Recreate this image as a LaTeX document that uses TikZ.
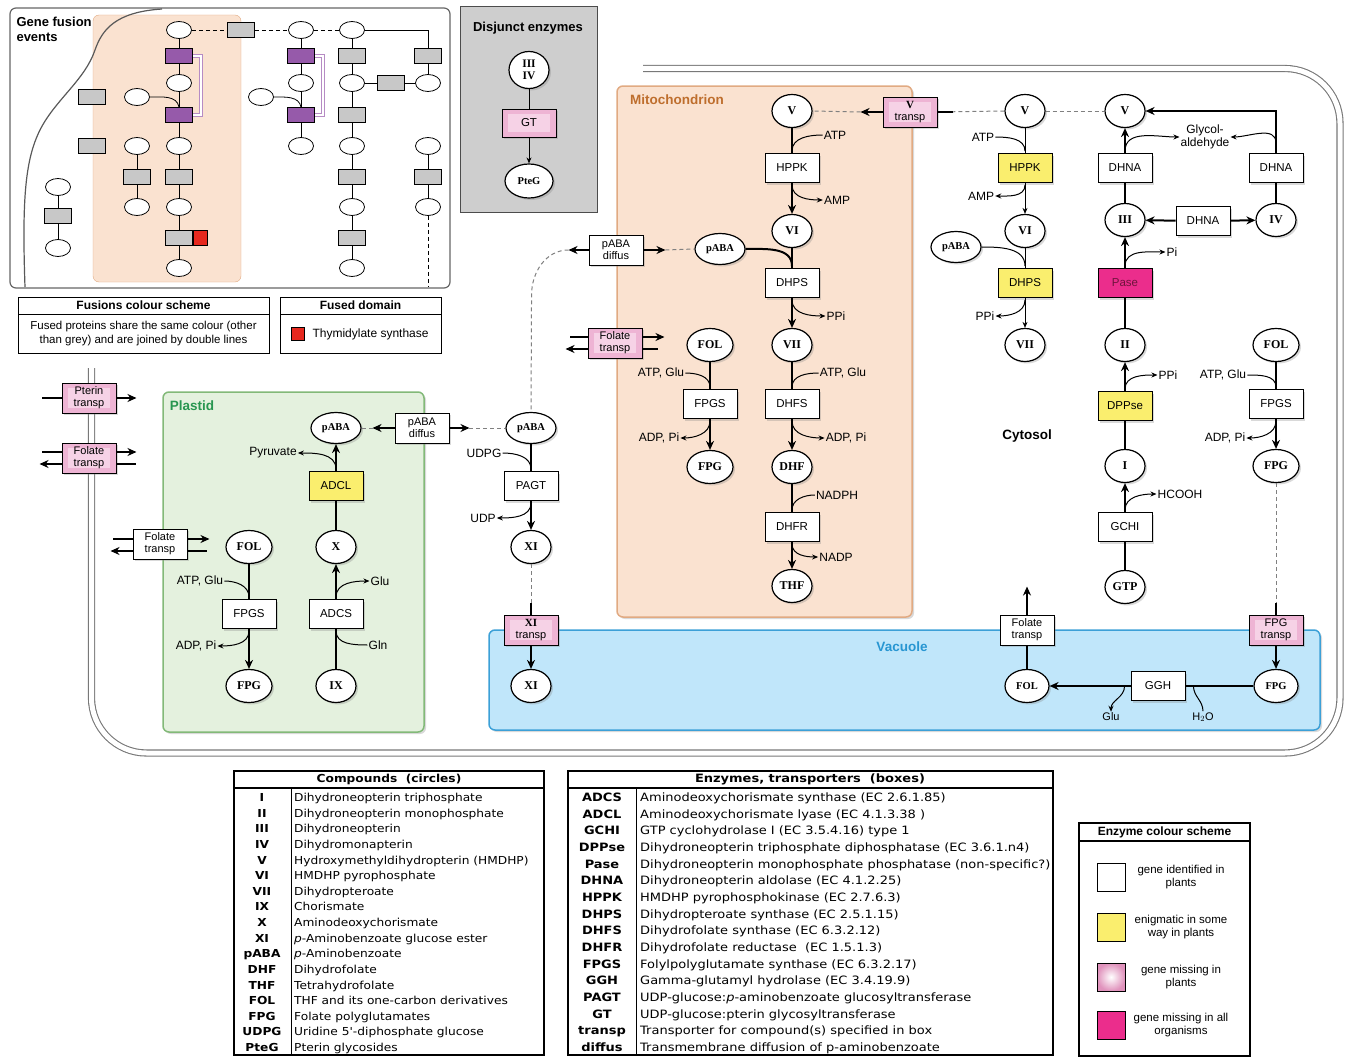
\documentclass[tikz,border=0pt]{standalone}
\usepackage{fontspec}
\setmainfont{Liberation Sans}
\newfontfamily\cpdf{Liberation Serif}
\newfontfamily\tabf[FakeStretch=1.11]{DejaVu Sans}
\newfontfamily\tabg[FakeStretch=1.13]{DejaVu Sans}
\usetikzlibrary{shapes.geometric,arrows.meta,calc,shadows}
\definecolor{peachfill}{RGB}{250,226,208}
\definecolor{peachdraw}{RGB}{225,170,130}
\definecolor{plastfill}{RGB}{228,241,222}
\definecolor{plastdraw}{RGB}{130,185,120}
\definecolor{vacfill}{RGB}{192,230,250}
\definecolor{vacdraw}{RGB}{60,160,215}
\definecolor{enzyel}{RGB}{250,238,110}
\definecolor{enzmag}{RGB}{235,45,140}
\definecolor{pasetxt}{RGB}{110,20,60}
\definecolor{pinkout}{RGB}{224,146,188}
\definecolor{pinkfl}{RGB}{238,180,212}
\definecolor{pinkhi}{RGB}{246,210,230}
\definecolor{fuspurp}{RGB}{150,90,170}
\definecolor{fusgray}{RGB}{200,200,200}
\definecolor{disgray}{RGB}{206,206,206}
\definecolor{mitotxt}{RGB}{190,110,45}
\definecolor{plasttxt}{RGB}{40,150,80}
\definecolor{vactxt}{RGB}{40,150,210}
\definecolor{membr}{RGB}{120,120,120}
\definecolor{fusred}{RGB}{230,40,30}
\newcommand{\labfont}{\fontsize{12}{13}\selectfont}
\newcommand{\boxfont}{\fontsize{11.5}{12.5}\selectfont}
\newcommand{\trfont}{\fontsize{11}{12}\selectfont}
\newcommand{\ttlfont}{\bfseries\fontsize{13.5}{15}\selectfont}
\newcommand{\cpdfont}{\cpdf\bfseries\fontsize{12}{12}\selectfont}
\newcommand{\pabafont}{\cpdf\bfseries\fontsize{10.5}{11}\selectfont}
\newcommand{\tabfont}{\tabf\fontsize{11}{12}\selectfont}
\newcommand{\tabgfont}{\tabg\fontsize{11.5}{12}\selectfont}
\newcommand{\legfont}{\fontsize{11.5}{13.5}\selectfont}
\tikzset{
  softshadow/.style={drop shadow={opacity=0.3,shadow xshift=2pt,shadow yshift=-2pt}},
  cpd/.style={ellipse, draw, line width=1.2pt, fill=white, minimum width=40pt, minimum height=33pt, inner sep=0pt, font=\cpdfont, softshadow},
  enz/.style={rectangle, draw, line width=0.9pt, fill=white, minimum width=54pt, minimum height=29pt, inner sep=1pt, font=\boxfont, softshadow},
  yenz/.style={enz, fill=enzyel},
  menz/.style={enz, fill=enzmag, text=pasetxt},
  trsp/.style={enz, minimum height=30pt, align=center, font=\trfont},
  penz/.style={trsp, fill=pinkfl, path picture={\fill[pinkhi] ($(path picture bounding box.south west)+(6,5)$) rectangle ($(path picture bounding box.north east)+(-6,-5)$);}},
  lab/.style={font=\labfont, inner sep=1pt},
  compart/.style={line width=1.5pt, rounded corners=6pt, softshadow},
  main/.style={line width=2pt},
  mainarr/.style={line width=2pt, -{Stealth[length=9pt,width=8pt]}},
  side/.style={line width=1pt},
  sidearr/.style={line width=1pt, -{Stealth[length=6pt,width=5pt]}},
  dashl/.style={line width=1pt, gray, dash pattern=on 4pt off 3pt},
  gell/.style={ellipse, draw, line width=0.8pt, fill=white, minimum width=25pt, minimum height=17pt, inner sep=0pt},
  gbox/.style={rectangle, draw, line width=0.8pt, fill=fusgray, minimum width=27pt, minimum height=15pt, inner sep=0pt},
  gpur/.style={gbox, fill=fuspurp},
}
\begin{document}
\begin{tikzpicture}[x=1pt,y=1pt]
\useasboundingbox (0,0) rectangle (1352,-1057);

%Gene fusion panel
\draw[line width=1.2pt, gray!80!black, rounded corners=6pt] (10,-8) rectangle (450,-288);
\fill[peachfill, draw=peachdraw, rounded corners=6pt] (93,-15) rectangle (241,-282);
\draw[line width=1.2pt, gray!70!black] (162,-9) .. controls (115,-12) and (102,-30) .. (95,-50) .. controls (85,-80) and (55,-100) .. (40,-130) .. controls (25,-160) and (22,-200) .. (25,-287);
\node[font=\bfseries\fontsize{13}{14.5}\selectfont, align=left, anchor=north west] (gTitle) at (13,-14) {Gene fusion\\events};
% Points
\node[gell] (gA1) at (179,-30) {};
\node[gpur] (gA2) at (179,-56) {};
\node[gell] (gA3) at (179,-83) {};
\node[gpur] (gA4) at (179,-115) {};
\node[gell] (gA5) at (179,-146) {};
\node[gbox] (gA6) at (179,-177) {};
\node[gell] (gA7) at (179,-207) {};
\node[gbox] (gA8) at (179,-238) {};
\node[gbox, fill=fusred, minimum width=14pt] (gA8r) at (200,-238) {};
\node[gell] (gA9) at (179,-268) {};
\node[gbox] (gT) at (241,-30) {};
\node[gell] (gB1) at (301,-30) {};
\node[gpur] (gB2) at (301,-56) {};
\node[gell] (gB3) at (301,-83) {};
\node[gpur] (gB4) at (301,-115) {};
\node[gell] (gB5) at (301,-146) {};
\node[gell] (gB0) at (261,-97) {};
\node[gell] (gC1) at (352,-30) {};
\node[gbox] (gC2) at (352,-56) {};
\node[gell] (gC3) at (352,-83) {};
\node[gbox] (gC4) at (352,-115) {};
\node[gell] (gC5) at (352,-146) {};
\node[gbox] (gC6) at (352,-177) {};
\node[gell] (gC7) at (352,-207) {};
\node[gbox] (gC8) at (352,-238) {};
\node[gell] (gC9) at (352,-268) {};
\node[gbox] (gCD) at (391,-83) {};
\node[gbox] (gD2) at (428,-56) {};
\node[gell] (gD3) at (428,-83) {};
\node[gell] (gD5) at (428,-146) {};
\node[gbox] (gD6) at (428,-177) {};
\node[gell] (gD7) at (428,-207) {};
\node[gell] (gE1) at (137,-97) {};
\node[gell] (gE5) at (137,-146) {};
\node[gbox] (gE6) at (137,-177) {};
\node[gell] (gE7) at (137,-207) {};
\node[gbox] (gX1) at (92,-97) {};
\node[gbox] (gX2) at (92,-146) {};
\node[gell] (gF1) at (58,-187) {};
\node[gbox] (gF2) at (58,-216) {};
\node[gell] (gF3) at (58,-248) {};
%Lines
\foreach \a/\b in {A1/A2,A2/A3,A3/A4,A4/A5,A5/A6,A6/A7,A7/A8,A8/A9,B1/B2,B2/B3,B3/B4,B4/B5,C1/C2,C2/C3,C3/C4,C4/C5,C5/C6,C6/C7,C7/C8,C8/C9,C3/CD,CD/D3,D2/D3,D5/D6,D6/D7,E5/E6,E6/E7,F1/F2,F2/F3}
  \draw[line width=0.8pt] (g\a) -- (g\b);
\draw[line width=0.8pt] (gC1.east) -| (gD2.north);
\draw[line width=0.8pt] (gE1.east) to[out=0,in=100] (gA4.north);
\draw[line width=0.8pt] (gB0.east) to[out=0,in=100] (gB4.north);
\draw[line width=0.9pt, dash pattern=on 4pt off 3pt] (gA1) -- (gT) (gT) -- (gB1) (gB1) -- (gC1);
\draw[line width=0.9pt, dash pattern=on 4pt off 3pt] (gD7.south) -- ++(0,-71);
\draw[double=white, double distance=2pt, fuspurp!70, line width=0.8pt] (gA2.east) -- ++(8,0) |- (gA4.east);
\draw[double=white, double distance=2pt, fuspurp!70, line width=0.8pt] (gB2.east) -- ++(8,0) |- (gB4.east);

%Disjunct enzymes
\draw[fill=disgray, draw=gray!60!black, line width=1pt] (460,-7) rectangle (597,-212);
\node[font=\bfseries\fontsize{13}{14}\selectfont] (dTitle) at (528,-28) {Disjunct enzymes};
\node[cpd, align=center, minimum width=40pt, minimum height=37pt, font=\cpdf\bfseries\fontsize{11.5}{12.5}\selectfont] (dIII) at (529,-70) {III\\IV};
\node[penz, minimum height=28pt, font=\boxfont] (dGT) at (529,-123) {GT};
\node[cpd, minimum width=48pt, minimum height=34pt, font=\pabafont] (dPteG) at (529,-181) {PteG};
\draw[side] (dIII) -- (dGT);
\draw[sidearr] (dGT) -- (dPteG);

%Fusion legends
\draw[line width=1pt] (18,-297) rectangle (269,-353);
\draw[line width=1pt] (18,-314) -- (269,-314);
\node[font=\bfseries\fontsize{12}{12}\selectfont] (fusH) at (143.5,-305.5) {Fusions colour scheme};
\node[font=\legfont, align=center] (fusT) at (143.5,-333.5) {Fused proteins share the same colour (other\\than grey) and are joined by double lines};
\draw[line width=1pt] (280,-297) rectangle (441,-353);
\draw[line width=1pt] (280,-314) -- (441,-314);
\node[font=\bfseries\fontsize{12}{12}\selectfont] (fdH) at (360.5,-305.5) {Fused domain};
\node[draw, fill=fusred, minimum size=13pt, inner sep=0pt] (fdSq) at (298,-334) {};
\node[font=\fontsize{12}{13}\selectfont, anchor=west] (fdT) at (309,-334) {Thymidylate synthase};

%Cell membrane and compartments
\draw[double=white, double distance=5pt, line width=1.1pt, draw=membr, rounded corners=55pt] (643,-68.5) -- (1340,-68.5) -- (1340,-753) -- (91.5,-753) -- (91.5,-368);
\draw[compart, fill=peachfill, draw=peachdraw] (617,-86) rectangle (912,-617);
\draw[compart, fill=plastfill, draw=plastdraw] (163,-392) rectangle (424,-732);
\draw[compart, fill=vacfill, draw=vacdraw] (489,-630) rectangle (1320,-730);
\node[font=\ttlfont, text=mitotxt] (mTitle) at (677,-100) {Mitochondrion};
\node[font=\ttlfont, text=plasttxt] (pTitle) at (192,-406) {Plastid};
\node[font=\ttlfont, text=vactxt] (vTitle) at (902,-647) {Vacuole};
\node[font=\ttlfont] (cTitle) at (1027,-436) {Cytosol};

% Points: mitochondrion
\node[cpd] (mV) at (792,-111) {V};
\node[enz] (mHPPK) at (792,-168) {HPPK};
\node[cpd] (mVI) at (792,-231) {VI};
\node[cpd, minimum width=50pt, minimum height=31pt, font=\pabafont] (mPABA) at (720,-249) {pABA};
\node[enz] (mDHPS) at (792,-283) {DHPS};
\node[cpd] (mVII) at (792,-345) {VII};
\node[enz] (mDHFS) at (792,-404) {DHFS};
\node[cpd] (mDHF) at (792,-467) {DHF};
\node[enz] (mDHFR) at (792,-527) {DHFR};
\node[cpd] (mTHF) at (792,-586) {THF};
\node[cpd, minimum width=46pt] (mFOL) at (710,-345) {FOL};
\node[enz] (mFPGS) at (710,-404) {FPGS};
\node[cpd, minimum width=46pt] (mFPG) at (710,-467) {FPG};
\node[penz] (mVtr) at (910,-112) {\cpdf\bfseries V\\transp};
\node[trsp] (mPd) at (616,-250) {pABA\\diffus};
\node[penz] (mFt) at (615,-343) {Folate\\transp};
\node[lab] (mATP) at (835,-135) {ATP};
\node[lab] (mAMP) at (837,-200) {AMP};
\node[lab] (mPPi) at (836,-316) {PPi};
\node[lab] (mATPGlu) at (843,-373) {ATP, Glu};
\node[lab] (mADPPi) at (846,-438) {ADP, Pi};
\node[lab] (mNADPH) at (837,-495) {NADPH};
\node[lab] (mNADP) at (836,-557) {NADP};
\node[lab] (mATPGlu2) at (661,-373) {ATP, Glu};
\node[lab] (mADPPi2) at (659,-438) {ADP, Pi};

% Points: cytosol
\node[cpd] (cV1) at (1025,-111) {V};
\node[yenz] (cHPPK) at (1025,-168) {HPPK};
\node[cpd] (cVI) at (1025,-231) {VI};
\node[cpd, minimum width=50pt, minimum height=31pt, font=\pabafont] (cPABA) at (956,-247) {pABA};
\node[yenz] (cDHPS) at (1025,-283) {DHPS};
\node[cpd] (cVII) at (1025,-345) {VII};
\node[cpd] (cV2) at (1125,-111) {V};
\node[enz] (cDHNA) at (1125,-168) {DHNA};
\node[cpd] (cIII) at (1125,-220) {III};
\node[enz] (cDHNAm) at (1203,-221) {DHNA};
\node[cpd] (cIV) at (1276,-220) {IV};
\node[enz] (cDHNAr) at (1276,-168) {DHNA};
\node[menz] (cPase) at (1125,-283) {Pase};
\node[cpd] (cII) at (1125,-345) {II};
\node[yenz] (cDPPse) at (1125,-406) {DPPse};
\node[cpd] (cI) at (1125,-466) {I};
\node[enz] (cGCHI) at (1125,-527) {GCHI};
\node[cpd] (cGTP) at (1125,-587) {GTP};
\node[cpd, minimum width=46pt] (cFOL) at (1276,-345) {FOL};
\node[enz] (cFPGS) at (1276,-404) {FPGS};
\node[cpd, minimum width=46pt] (cFPG) at (1276,-466) {FPG};
\node[lab] (cATP) at (983,-137) {ATP};
\node[lab] (cAMP) at (981,-196) {AMP};
\node[lab] (cPPi) at (985,-316) {PPi};
\node[lab, align=center, font=\fontsize{12}{13}\selectfont] (cGly) at (1205,-137) {Glycol-\\aldehyde};
\node[lab] (cPi) at (1172,-252) {Pi};
\node[lab] (cPPi2) at (1168,-375) {PPi};
\node[lab] (cHCOOH) at (1180,-494) {HCOOH};
\node[lab] (cATPGlu) at (1223,-375) {ATP, Glu};
\node[lab] (cADPPi) at (1225,-438) {ADP, Pi};

% Points: middle
\node[cpd, minimum width=50pt, minimum height=31pt, font=\pabafont] (xPABA) at (531,-428) {pABA};
\node[enz] (xPAGT) at (531,-486) {PAGT};
\node[cpd] (xXI) at (531,-547) {XI};
\node[lab] (uUDPG) at (484,-453) {UDPG};
\node[lab] (uUDP) at (483,-518) {UDP};

% Points: plastid
\node[cpd, minimum width=50pt, minimum height=31pt, font=\pabafont] (pPABA) at (336,-428) {pABA};
\node[yenz] (pADCL) at (336,-486) {ADCL};
\node[cpd] (pX) at (336,-547) {X};
\node[enz] (pADCS) at (336,-614) {ADCS};
\node[cpd] (pIX) at (336,-686) {IX};
\node[cpd, minimum width=46pt] (pFOL) at (249,-547) {FOL};
\node[enz] (pFPGS) at (249,-614) {FPGS};
\node[cpd, minimum width=46pt] (pFPG) at (249,-686) {FPG};
\node[trsp] (pPd) at (422,-428) {pABA\\diffus};
\node[trsp] (pFt) at (160,-544) {Folate\\transp};
\node[penz] (lPt) at (89,-398) {Pterin\\transp};
\node[penz] (lFt) at (89,-458) {Folate\\transp};
\node[lab] (pPyr) at (273,-453) {Pyruvate};
\node[lab] (pGlu) at (380,-581) {Glu};
\node[lab] (pGln) at (378,-645) {Gln};
\node[lab] (pATPGlu) at (200,-581) {ATP, Glu};
\node[lab] (pADPPi) at (196,-646) {ADP, Pi};

% Points: vacuole
\node[cpd] (vXI) at (531,-686) {XI};
\node[cpd, minimum width=44pt, font=\pabafont] (vFOL) at (1027,-686) {FOL};
\node[enz] (vGGH) at (1158,-686) {GGH};
\node[cpd, minimum width=44pt, font=\pabafont] (vFPG) at (1276,-686) {FPG};
\node[penz] (vXItr) at (531,-630) {\cpdf\bfseries XI\\transp};
\node[trsp] (vFtr) at (1027,-630) {Folate\\transp};
\node[penz] (vFPGtr) at (1276,-630) {FPG\\transp};
\node[lab, font=\fontsize{11}{12}\selectfont] (vGlu) at (1111,-717) {Glu};
\node[lab, font=\fontsize{11}{12}\selectfont] (vH2O) at (1203,-717) {H$_2$O};

%Lines: mitochondrion
\draw[main] (mV) -- (mHPPK);
\draw[mainarr] (mHPPK) -- (mVI);
\draw[main] (mVI) -- (mDHPS);
\draw[mainarr] (mDHPS) -- (mVII);
\draw[main] (mVII) -- (mDHFS);
\draw[mainarr] (mDHFS) -- (mDHF);
\draw[main] (mDHF) -- (mDHFR);
\draw[mainarr] (mDHFR) -- (mTHF);
\draw[main] (mFOL) -- (mFPGS);
\draw[mainarr] (mFPGS) -- (mFPG);
\draw[main] (mPABA.east) to[out=0,in=90] ($(mDHPS.north)+(0,2)$);
\draw[side] (mATP.west) to[out=180,in=90] ($(mHPPK.north)+(0,2)$);
\draw[sidearr] ($(mHPPK.south)+(0,-2)$) to[out=-90,in=180] (mAMP.west);
\draw[sidearr] ($(mDHPS.south)+(0,-2)$) to[out=-90,in=180] (mPPi.west);
\draw[side] (mATPGlu.west) to[out=180,in=90] ($(mDHFS.north)+(0,2)$);
\draw[sidearr] ($(mDHFS.south)+(0,-2)$) to[out=-90,in=180] (mADPPi.west);
\draw[side] (mNADPH.west) to[out=180,in=90] ($(mDHFR.north)+(0,2)$);
\draw[sidearr] ($(mDHFR.south)+(0,-2)$) to[out=-90,in=180] (mNADP.west);
\draw[side] (mATPGlu2.east) to[out=0,in=90] ($(mFPGS.north)+(0,2)$);
\draw[sidearr] ($(mFPGS.south)+(0,-2)$) to[out=-90,in=0] (mADPPi2.east);
\draw[mainarr] (mVtr.west) -- ++(-22,0) coordinate (mVin);
\draw[dashl] (mVin) -- (mV.east);
\draw[dashl] (cV1.west) -- (mVtr.east);
\draw[main] (mVtr.east) -- ++(16,0);
\draw[mainarr] (mPd.west) -- ++(-20,0) coordinate (mPdl);
\draw[mainarr] (mPd.east) -- ++(22,0) coordinate (mPdr);
\draw[dashl] (mPdr) -- (mPABA.west);
\draw[dashl] (mPdl) to[out=180,in=90] ++(-37,-45) -- (xPABA.north);
\draw[main] ([yshift=6pt]mFt.west) -- ++(-18,0);
\draw[mainarr] ([yshift=6pt]mFt.east) -- ++(22,0);
\draw[mainarr] ([yshift=-6pt]mFt.west) -- ++(-22,0);
\draw[main] ([yshift=-6pt]mFt.east) -- ++(16,0);

%Lines: cytosol
\draw[side] (cV1) -- (cHPPK);
\draw[sidearr] (cHPPK) -- (cVI);
\draw[side] (cVI) -- (cDHPS);
\draw[sidearr] (cDHPS) -- (cVII);
\draw[side] (cATP.east) to[out=0,in=90] ($(cHPPK.north)+(0,2)$);
\draw[sidearr] ($(cHPPK.south)+(0,-2)$) to[out=-90,in=0] (cAMP.east);
\draw[side] (cPABA.east) to[out=0,in=90] ($(cDHPS.north)+(0,2)$);
\draw[sidearr] ($(cDHPS.south)+(0,-2)$) to[out=-90,in=0] (cPPi.east);
\draw[dashl] (cV1) -- (cV2);
\draw[main] (cGTP) -- (cGCHI);
\draw[mainarr] (cGCHI) -- (cI);
\draw[main] (cI) -- (cDPPse);
\draw[mainarr] (cDPPse) -- (cII);
\draw[main] (cII) -- (cPase);
\draw[mainarr] (cPase) -- (cIII);
\draw[main] (cIII) -- (cDHNA);
\draw[mainarr] (cDHNA) -- (cV2);
\draw[mainarr] (cDHNAm) -- (cIII);
\draw[mainarr] (cDHNAm) -- (cIV);
\draw[main] (cIV) -- (cDHNAr);
\draw[mainarr] (cDHNAr.north) |- (cV2.east);
\draw[sidearr] ($(cGCHI.north)+(0,2)$) to[out=90,in=180] (cHCOOH.west);
\draw[sidearr] ($(cDPPse.north)+(0,2)$) to[out=90,in=180] (cPPi2.west);
\draw[sidearr] ($(cPase.north)+(0,2)$) to[out=90,in=180] (cPi.west);
\draw[sidearr] ($(cDHNA.north)+(0,2)$) to[out=90,in=180] (cGly.west);
\draw[sidearr] ($(cDHNAr.north)+(0,10)$) to[out=90,in=0] (cGly.east);
\draw[main] (cFOL) -- (cFPGS);
\draw[mainarr] (cFPGS) -- (cFPG);
\draw[side] (cATPGlu.east) to[out=0,in=90] ($(cFPGS.north)+(0,2)$);
\draw[sidearr] ($(cFPGS.south)+(0,-2)$) to[out=-90,in=0] (cADPPi.east);

%Lines: middle
\draw[main] (xPABA) -- (xPAGT);
\draw[mainarr] (xPAGT) -- (xXI);
\draw[side] (uUDPG.east) to[out=0,in=90] ($(xPAGT.north)+(0,2)$);
\draw[sidearr] ($(xPAGT.south)+(0,-2)$) to[out=-90,in=0] (uUDP.east);
\draw[dashl] (xXI.south) -- (vXItr.north);
\draw[main] (vXItr.north) -- ++(0,12);

%Lines: plastid
\draw[main] (pIX) -- (pADCS);
\draw[mainarr] (pADCS) -- (pX);
\draw[main] (pX) -- (pADCL);
\draw[mainarr] (pADCL) -- (pPABA);
\draw[sidearr] ($(pADCL.north)+(0,2)$) to[out=90,in=0] (pPyr.east);
\draw[sidearr] ($(pADCS.north)+(0,2)$) to[out=90,in=180] (pGlu.west);
\draw[side] (pGln.west) to[out=180,in=-90] ($(pADCS.south)+(0,-2)$);
\draw[main] (pFOL) -- (pFPGS);
\draw[mainarr] (pFPGS) -- (pFPG);
\draw[side] (pATPGlu.east) to[out=0,in=90] ($(pFPGS.north)+(0,2)$);
\draw[sidearr] ($(pFPGS.south)+(0,-2)$) to[out=-90,in=0] (pADPPi.east);
\draw[mainarr] (pPd.west) -- ++(-22,0) coordinate (pPdl);
\draw[dashl] (pPdl) -- (pPABA.east);
\draw[mainarr] (pPd.east) -- ++(20,0) coordinate (pPdr);
\draw[dashl] (pPdr) -- (xPABA.west);
\draw[main] ([yshift=5pt]pFt.west) -- ++(-20,0);
\draw[mainarr] ([yshift=5pt]pFt.east) -- ++(22,0);
\draw[mainarr] ([yshift=-7pt]pFt.west) -- ++(-22,0);
\draw[main] ([yshift=-7pt]pFt.east) -- ++(20,0);
\draw[main] (lPt.west) -- ++(-20,0);
\draw[mainarr] (lPt.east) -- ++(20,0);
\draw[main] ([yshift=6pt]lFt.west) -- ++(-20,0);
\draw[mainarr] ([yshift=6pt]lFt.east) -- ++(20,0);
\draw[mainarr] ([yshift=-6pt]lFt.west) -- ++(-22,0);
\draw[main] ([yshift=-6pt]lFt.east) -- ++(20,0);

%Lines: vacuole
\draw[mainarr] (vXItr) -- (vXI);
\draw[main] (vFOL) -- (vFtr);
\draw[mainarr] (vFtr.north) -- ++(0,28);
\draw[dashl] (cFPG.south) -- (vFPGtr.north);
\draw[main] (vFPGtr.north) -- ++(0,12);
\draw[mainarr] (vFPGtr) -- (vFPG);
\draw[main] (vFPG) -- (vGGH);
\draw[mainarr] (vGGH) -- (vFOL);
\draw[sidearr] ($(vGGH.west)+(-6,0)$) to[out=-90,in=90] (vGlu.north);
\draw[side] (vH2O.north) to[out=90,in=-90] ($(vGGH.east)+(8,0)$);

%Compounds table
\draw[line width=1.5pt] (234,-771) rectangle (544,-1055);
\draw[line width=1.5pt] (234,-788) -- (544,-788);
\draw[line width=1pt] (291,-788) -- (291,-1055);
\node[font=\tabfont\bfseries] (cmpH) at (389,-779.5) {Compounds\ \ (circles)};
\foreach \ab/\txt [count=\i] in {I/{Dihydroneopterin triphosphate}, II/{Dihydroneopterin monophosphate}, III/{Dihydroneopterin}, IV/{Dihydromonapterin}, V/{Hydroxymethyldihydropterin (HMDHP)}, VI/{HMDHP pyrophosphate}, VII/{Dihydropteroate}, IX/{Chorismate}, X/{Aminodeoxychorismate}, XI/{\textit{p}-Aminobenzoate glucose ester}, pABA/{\textit{p}-Aminobenzoate}, DHF/{Dihydrofolate}, THF/{Tetrahydrofolate}, FOL/{THF and its one-carbon derivatives}, FPG/{Folate polyglutamates}, UDPG/{Uridine 5'-diphosphate glucose}, PteG/{Pterin glycosides}}{
  \node[font=\tabfont\bfseries, anchor=base, inner sep=0pt] (cmpA\i) at (262,{-801.5-(\i-1)*15.625}) {\ab};
  \node[font=\tabfont, anchor=base west, inner sep=0pt] (cmpT\i) at (294,{-801.5-(\i-1)*15.625}) {\txt};
}

%Enzymes table
\draw[line width=1.5pt] (568,-771) rectangle (1053,-1055);
\draw[line width=1.5pt] (568,-788) -- (1053,-788);
\draw[line width=1pt] (636,-788) -- (636,-1055);
\node[font=\tabgfont\bfseries] (enzH) at (810,-779.5) {Enzymes, transporters\ \ (boxes)};
\foreach \ab/\txt [count=\i] in {ADCS/{Aminodeoxychorismate synthase (EC 2.6.1.85)}, ADCL/{Aminodeoxychorismate lyase (EC 4.1.3.38 )}, GCHI/{GTP cyclohydrolase I (EC 3.5.4.16) type 1}, DPPse/{Dihydroneopterin triphosphate diphosphatase (EC 3.6.1.n4)}, Pase/{Dihydroneopterin monophosphate phosphatase (non-specific?)}, DHNA/{Dihydroneopterin aldolase (EC 4.1.2.25)}, HPPK/{HMDHP pyrophosphokinase (EC 2.7.6.3)}, DHPS/{Dihydropteroate synthase (EC 2.5.1.15)}, DHFS/{Dihydrofolate synthase (EC 6.3.2.12)}, DHFR/{Dihydrofolate reductase\ \ (EC 1.5.1.3)}, FPGS/{Folylpolyglutamate synthase (EC 6.3.2.17)}, GGH/{Gamma-glutamyl hydrolase (EC 3.4.19.9)}, PAGT/{UDP-glucose:\textit{p}-aminobenzoate glucosyltransferase}, GT/{UDP-glucose:pterin glycosyltransferase}, transp/{Transporter for compound(s) specified in box}, diffus/{Transmembrane diffusion of p-aminobenzoate}}{
  \node[font=\tabgfont\bfseries, anchor=base, inner sep=0pt] (enzA\i) at (602,{-801.5-(\i-1)*16.67}) {\ab};
  \node[font=\tabgfont, anchor=base west, inner sep=0pt] (enzT\i) at (640,{-801.5-(\i-1)*16.67}) {\txt};
}

%Enzyme colour scheme
\draw[line width=1.2pt] (1079,-823) rectangle (1250,-1056);
\draw[line width=1.2pt] (1079,-841) -- (1250,-841);
\node[font=\bfseries\fontsize{12}{12}\selectfont] (ecsH) at (1164.5,-832) {Enzyme colour scheme};
\node[draw, line width=0.9pt, fill=white, minimum size=28pt, inner sep=0pt] (ecs1) at (1111,-877) {};
\node[draw, line width=0.9pt, fill=enzyel, minimum size=28pt, inner sep=0pt] (ecs2) at (1111,-927) {};
\node[draw, line width=0.9pt, inner color=white, outer color=pinkout, minimum size=28pt, inner sep=0pt] (ecs3) at (1111,-977) {};
\node[draw, line width=0.9pt, fill=enzmag, minimum size=28pt, inner sep=0pt] (ecs4) at (1111,-1025) {};
\node[font=\legfont, align=center] (ecsT1) at (1181,-877) {gene identified in\\plants};
\node[font=\legfont, align=center] (ecsT2) at (1181,-927) {enigmatic in some\\way in plants};
\node[font=\legfont, align=center] (ecsT3) at (1181,-977) {gene missing in\\plants};
\node[font=\legfont, align=center] (ecsT4) at (1181,-1025) {gene missing in all\\organisms};
\end{tikzpicture}
\end{document}
